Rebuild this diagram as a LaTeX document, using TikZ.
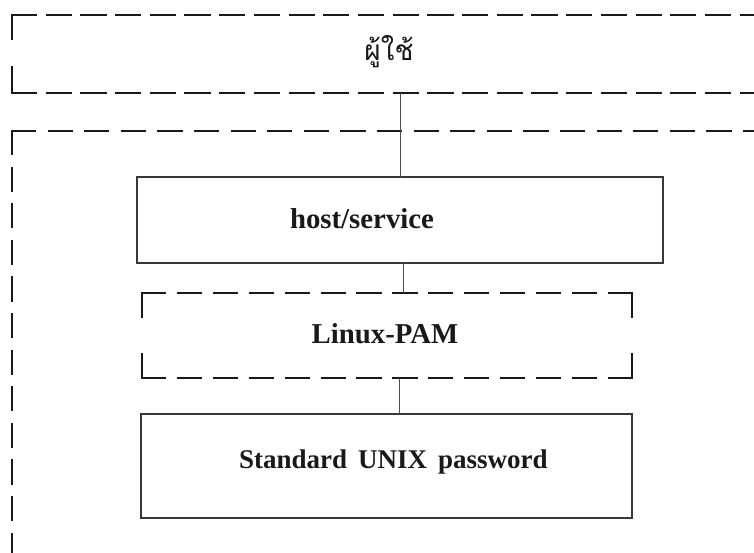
\documentclass[tikz,border=0pt]{standalone}
\usepackage{fontspec}
\setmainfont{Liberation Serif}
\newfontfamily\thaifont[Script=Thai]{Loma}
\begin{document}
\begin{tikzpicture}[x=1pt,y=-1pt,
  hidden/.style={draw=none, inner sep=0pt, outer sep=0pt},
  solidbox/.style={draw=black!78, line width=1.1pt, inner sep=0pt, outer sep=0pt},
  dashside/.style 2 args={draw=black!90, line width=2.2pt, line cap=rect, dash pattern=on #1 off #2},
  conn/.style={draw=black!70, line width=1pt},
  label/.style={text=black!90, font=\bfseries\fontsize{28.8}{32}\selectfont, inner sep=0pt, anchor=base}]
\useasboundingbox (0,0) rectangle (754,552);
\clip (0,0) rectangle (754,552);

% frames (geometry only; their outlines are dashed by hand below)
\node[hidden, minimum width=788pt, minimum height=78pt] (user) at (406,54) {};
\node[hidden, minimum width=800pt, minimum height=500pt] (sys) at (412,381) {};
\node[solidbox, minimum width=526pt, minimum height=86pt] (hs) at (400,220) {};
\node[hidden, minimum width=490pt, minimum height=85pt] (pam) at (387,335.5) {};
\node[solidbox, minimum width=491pt, minimum height=104pt] (std) at (386.5,466) {};

% user frame
\draw[dashside={24}{10.7}] (user.north west) -- (user.north east);
\draw[dashside={24}{10.7}] (user.south west) -- (user.south east);
\draw[dashside={23.5}{29}] (user.north west) -- (user.south west);

% system frame
\draw[dashside={23}{13.6}] (sys.north west) -- (sys.north east);
\draw[dashside={23}{13.6}] (sys.north west) -- (sys.south west);

% Linux-PAM frame
\draw[dashside={23}{12.92}] (pam.north west) -- (pam.north east);
\draw[dashside={23}{12.92}] (pam.south west) -- (pam.south east);
\draw[dashside={23.5}{38}] (pam.north west) -- (pam.south west);
\draw[dashside={23.5}{38}] (pam.north east) -- (pam.south east);

% labels
\node[text=black!90, font=\thaifont\fontsize{28}{32}\selectfont, inner sep=0pt, anchor=base] (tuser) at (389,60) {ผู้ใช้};
\node[label] (ths) at (362,228) {host/service};
\node[label] (tpam) at (385,343) {Linux-PAM};
\node[label, font=\bfseries\fontsize{27}{30}\selectfont] (tstd) at (393.5,468) {Standard\hspace{11pt}UNIX\hspace{11pt}password};

% connectors
\coordinate (k2) at (403,0);
\coordinate (k3) at (399,0);
\draw[conn] (user.south -| hs.north) -- (hs.north);
\draw[conn] (hs.south -| k2) -- (pam.north -| k2);
\draw[conn] (pam.south -| k3) -- (std.north -| k3);
\end{tikzpicture}
\end{document}
